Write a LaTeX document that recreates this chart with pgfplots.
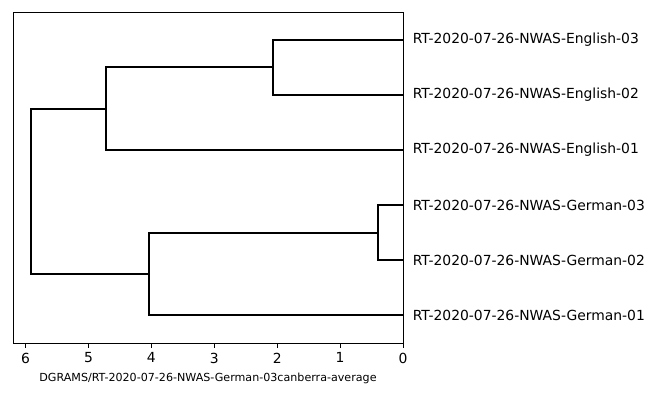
\documentclass[border=0pt]{standalone}
\usepackage{pgfplots}
\pgfplotsset{compat=1.18}
\usepackage{fontspec}
\setmainfont{DejaVu Sans}
\begin{document}
\begin{tikzpicture}[x=0.72pt,y=0.72pt]
\useasboundingbox (-13,-57) rectangle (637,343);
\begin{axis}[
  at={(0,0)}, anchor=south west,
  scale only axis, width=280.8pt, height=238.3pt,
  x dir=reverse,
  xmin=0, xmax=6.2, ymin=0, ymax=60,
  xtick={0,1,2,3,4,5,6},
  ytick={5,15,25,35,45,55},
  yticklabels={RT-2020-07-26-NWAS-German-01,RT-2020-07-26-NWAS-German-02,RT-2020-07-26-NWAS-German-03,RT-2020-07-26-NWAS-English-01,RT-2020-07-26-NWAS-English-02,RT-2020-07-26-NWAS-English-03},
  yticklabel pos=right,
  y tick label style={font=\fontsize{10}{12}\selectfont, anchor=west, xshift=3.5pt},
  x tick label style={font=\fontsize{10}{12}\selectfont},
  /pgf/number format/assume math mode=true,
  major tick length=3.5pt,
  ytick style={draw=none},
  xtick style={black, line width=0.6pt},
  xtick align=outside, xtick pos=bottom,
  axis line style={line width=0.6pt},
  xlabel={DGRAMS/RT-2020-07-26-NWAS-German-03canberra-average},
  xlabel style={font=\fontsize{8}{10}\selectfont, yshift=0pt},
]
\addplot[black, line width=1.4pt, mark=none] coordinates {(0,45) (2.065,45) (2.065,55) (0,55)};
\addplot[black, line width=1.4pt, mark=none] coordinates {(0,35) (4.72,35) (4.72,50) (2.065,50)};
\addplot[black, line width=1.4pt, mark=none] coordinates {(0,15) (0.40,15) (0.40,25) (0,25)};
\addplot[black, line width=1.4pt, mark=none] coordinates {(0,5) (4.04,5) (4.04,20) (0.40,20)};
\addplot[black, line width=1.4pt, mark=none] coordinates {(4.04,12.5) (5.91,12.5) (5.91,42.5) (4.72,42.5)};
\end{axis}
\end{tikzpicture}
\end{document}
